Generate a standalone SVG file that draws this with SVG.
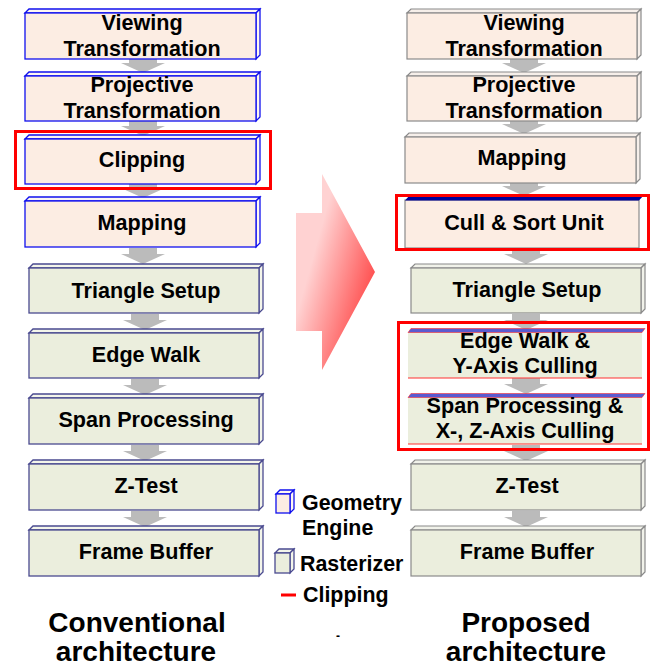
<svg xmlns="http://www.w3.org/2000/svg" width="650" height="666" viewBox="0 0 650 666">
<style>
text{font-family:"Liberation Sans",Arial,sans-serif;font-weight:bold;fill:#000}
.lbl{font-size:21.6px;text-anchor:middle}
.ttl{font-size:28px;text-anchor:middle}
.leg{font-size:21.4px}
.geoL{fill:#fcede3;stroke:#1010ee;stroke-width:1.3}
.geoLs{fill:#fdf6f1;stroke:#1010ee;stroke-width:1.3}
.rasL{fill:#ebeedd;stroke:#4a4a90;stroke-width:1.3}
.rasLs{fill:#f3f5ea;stroke:#4a4a90;stroke-width:1.3}
.geoR{fill:#fcede3;stroke:#8a8a8a;stroke-width:1.2}
.geoRs{fill:#f6efea;stroke:#8a8a8a;stroke-width:1.2}
.rasR{fill:#ebeedd;stroke:#8a8a8a;stroke-width:1.2}
.rasRs{fill:#f1f2ea;stroke:#8a8a8a;stroke-width:1.2}
.arr{fill:#bbbbbb}
.clip{fill:none;stroke:#ff0000;stroke-width:3}
</style>
<defs>
<linearGradient id="bigG" x1="0.3" y1="0.3" x2="0.95" y2="0.75">
<stop offset="0" stop-color="#ffd2d2"/>
<stop offset="1" stop-color="#ff4040"/>
</linearGradient>
<polygon id="ga" points="-14,-16 14,-16 14,-10 22,-10 0,0 -22,-10 -14,-10"/>
</defs>

<g id="connectors">
<use href="#ga" class="arr" x="143" y="73"/>
<use href="#ga" class="arr" x="143" y="136"/>
<use href="#ga" class="arr" x="143" y="198"/>
<use href="#ga" class="arr" x="143" y="264"/>
<use href="#ga" class="arr" x="145" y="330"/>
<use href="#ga" class="arr" x="145" y="395"/>
<use href="#ga" class="arr" x="145" y="461"/>
<use href="#ga" class="arr" x="145" y="527"/>
<use href="#ga" class="arr" x="524" y="73"/>
<use href="#ga" class="arr" x="524" y="134"/>
<use href="#ga" class="arr" x="524" y="196"/>
<use href="#ga" class="arr" x="526" y="264"/>
<use href="#ga" class="arr" x="526" y="330"/>
<use href="#ga" class="arr" x="526" y="394"/>
<use href="#ga" class="arr" x="526" y="461"/>
<use href="#ga" class="arr" x="526" y="527"/>
</g>

<g id="big-arrow">
<polygon points="296,213 322,213 322,174 375,272 322,370 322,331 296,331" fill="url(#bigG)"/>
</g>

<!-- Left column: conventional -->
<g id="L-viewing">
<polygon class="geoLs" points="25,13 29,9 260,9 256,13"/>
<polygon class="geoLs" points="256,13 260,9 260,55 256,59"/>
<rect class="geoL" x="25" y="13" width="231" height="46"/>
<text class="lbl" x="142" y="30">Viewing</text>
<text class="lbl" x="142" y="56">Transformation</text>
</g>
<g id="L-projective">
<polygon class="geoLs" points="25,76 29,72 260,72 256,76"/>
<polygon class="geoLs" points="256,76 260,72 260,117 256,121"/>
<rect class="geoL" x="25" y="76" width="231" height="45"/>
<text class="lbl" x="142" y="92">Projective</text>
<text class="lbl" x="142" y="118">Transformation</text>
</g>
<g id="L-clipping">
<polygon class="geoLs" points="25,139 29,135 260,135 256,139"/>
<polygon class="geoLs" points="256,139 260,135 260,180 256,184"/>
<rect class="geoL" x="25" y="139" width="231" height="45"/>
<text class="lbl" x="142" y="167">Clipping</text>
<rect class="clip" x="15.5" y="131.5" width="255" height="57"/>
</g>
<g id="L-mapping">
<polygon class="geoLs" points="25,201 29,197 260,197 256,201"/>
<polygon class="geoLs" points="256,201 260,197 260,243 256,247"/>
<rect class="geoL" x="25" y="201" width="231" height="46"/>
<text class="lbl" x="142" y="230">Mapping</text>
</g>
<g id="L-triangle">
<polygon class="rasLs" points="29,268 33,264 263,264 259,268"/>
<polygon class="rasLs" points="259,268 263,264 263,309 259,313"/>
<rect class="rasL" x="29" y="268" width="230" height="45"/>
<text class="lbl" x="146" y="298">Triangle Setup</text>
</g>
<g id="L-edgewalk">
<polygon class="rasLs" points="29,333 33,329 263,329 259,333"/>
<polygon class="rasLs" points="259,333 263,329 263,374 259,378"/>
<rect class="rasL" x="29" y="333" width="230" height="45"/>
<text class="lbl" x="146" y="362">Edge Walk</text>
</g>
<g id="L-span">
<polygon class="rasLs" points="29,398 33,394 263,394 259,398"/>
<polygon class="rasLs" points="259,398 263,394 263,440 259,444"/>
<rect class="rasL" x="29" y="398" width="230" height="46"/>
<text class="lbl" x="146" y="427">Span Processing</text>
</g>
<g id="L-ztest">
<polygon class="rasLs" points="29,464 33,460 263,460 259,464"/>
<polygon class="rasLs" points="259,464 263,460 263,506 259,510"/>
<rect class="rasL" x="29" y="464" width="230" height="46"/>
<text class="lbl" x="146" y="493">Z-Test</text>
</g>
<g id="L-frame">
<polygon class="rasLs" points="29,530 33,526 263,526 259,530"/>
<polygon class="rasLs" points="259,530 263,526 263,572 259,576"/>
<rect class="rasL" x="29" y="530" width="230" height="46"/>
<text class="lbl" x="146" y="559">Frame Buffer</text>
</g>

<!-- Right column: proposed -->
<g id="R-viewing">
<polygon class="geoRs" points="407,13 411,9 641,9 637,13"/>
<polygon class="geoRs" points="637,13 641,9 641,55 637,59"/>
<rect class="geoR" x="407" y="13" width="230" height="46"/>
<text class="lbl" x="524" y="30">Viewing</text>
<text class="lbl" x="524" y="56">Transformation</text>
</g>
<g id="R-projective">
<polygon class="geoRs" points="407,76 411,72 641,72 637,76"/>
<polygon class="geoRs" points="637,76 641,72 641,117 637,121"/>
<rect class="geoR" x="407" y="76" width="230" height="45"/>
<text class="lbl" x="524" y="92">Projective</text>
<text class="lbl" x="524" y="118">Transformation</text>
</g>
<g id="R-mapping">
<polygon class="geoRs" points="405,137 409,133 640,133 636,137"/>
<polygon class="geoRs" points="636,137 640,133 640,179 636,183"/>
<rect class="geoR" x="405" y="137" width="231" height="46"/>
<text class="lbl" x="522" y="165">Mapping</text>
</g>
<g id="R-cullsort">
<rect x="405" y="200" width="234" height="48" fill="#fcede3" stroke="#8a8a8a" stroke-width="1.2"/>
<polygon points="405,200.5 409,196 643,196 639,200.5" fill="#000099"/>
<text class="lbl" x="524" y="230">Cull &amp; Sort Unit</text>
<rect class="clip" x="396.5" y="195.5" width="252" height="54"/>
</g>
<g id="R-triangle">
<polygon class="rasRs" points="411,268 415,264 645,264 641,268"/>
<polygon class="rasRs" points="641,268 645,264 645,309 641,313"/>
<rect class="rasR" x="411" y="268" width="230" height="45"/>
<text class="lbl" x="527" y="297">Triangle Setup</text>
</g>
<g id="R-edgewalk">
<rect x="408" y="332" width="234" height="46" fill="#ebeedd"/>
<polygon points="408,332.5 411,328.5 645,328.5 642,332.5" fill="#5a5ad0" stroke="#ff3030" stroke-width="0.6"/>
<line x1="408" y1="378" x2="642" y2="378" stroke="#ff3030" stroke-width="1"/>
<text class="lbl" x="525" y="348">Edge Walk &amp;</text>
<text class="lbl" x="525" y="373">Y-Axis Culling</text>
</g>
<g id="R-span">
<rect x="408" y="397" width="234" height="47" fill="#ebeedd"/>
<polygon points="408,397.5 411,393.5 645,393.5 642,397.5" fill="#5a5ad0" stroke="#ff3030" stroke-width="0.6"/>
<line x1="408" y1="444" x2="642" y2="444" stroke="#ff3030" stroke-width="1"/>
<text class="lbl" x="525" y="413">Span Processing &amp;</text>
<text class="lbl" x="525" y="438">X-, Z-Axis Culling</text>
</g>
<rect class="clip" x="398.5" y="322.5" width="250" height="127"/>
<g id="R-ztest">
<polygon class="rasRs" points="411,464 415,460 645,460 641,464"/>
<polygon class="rasRs" points="641,464 645,460 645,506 641,510"/>
<rect class="rasR" x="411" y="464" width="230" height="46"/>
<text class="lbl" x="527" y="493">Z-Test</text>
</g>
<g id="R-frame">
<polygon class="rasRs" points="411,530 415,526 645,526 641,530"/>
<polygon class="rasRs" points="641,530 645,526 645,572 641,576"/>
<rect class="rasR" x="411" y="530" width="230" height="46"/>
<text class="lbl" x="527" y="559">Frame Buffer</text>
</g>

<!-- Legend -->
<g id="legend">
<polygon class="geoLs" points="276,494 280,490 294,490 290,494"/>
<polygon class="geoLs" points="290,494 294,490 294,509 290,513"/>
<rect class="geoL" x="276" y="494" width="14" height="19"/>
<text class="leg" x="302" y="510">Geometry</text>
<text class="leg" x="302" y="535">Engine</text>
<polygon class="rasLs" points="275,553 279,549 294,549 290,553"/>
<polygon class="rasLs" points="290,553 294,549 294,569 290,573"/>
<rect class="rasL" x="275" y="553" width="15" height="20"/>
<text class="leg" x="300" y="571">Rasterizer</text>
<line x1="281" y1="595" x2="296" y2="595" stroke="#ff0000" stroke-width="3"/>
<text class="leg" x="303" y="602">Clipping</text>
<text x="336" y="640" style="font-size:12px">-</text>
</g>

<g id="titles">
<text class="ttl" x="137" y="632">Conventional</text>
<text class="ttl" x="136" y="661">architecture</text>
<text class="ttl" x="526" y="632">Proposed</text>
<text class="ttl" x="526" y="661">architecture</text>
</g>
</svg>
